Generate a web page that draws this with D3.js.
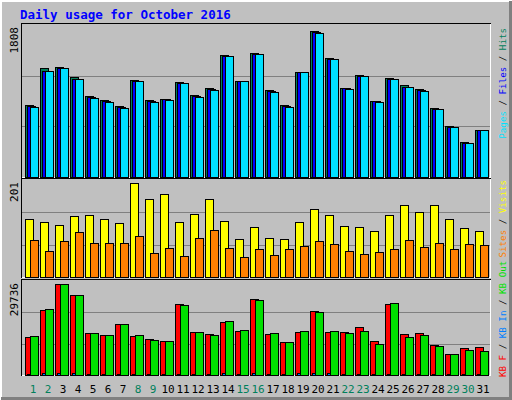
<!DOCTYPE html>
<html>
<head>
<meta charset="utf-8">
<script src="https://cdn.jsdelivr.net/npm/d3@7"></script>
<style>
  body { margin: 0; background: #fff; }
  svg { display: block; }
  text { font-family: 'DejaVu Sans Mono', monospace; }
</style>
</head>
<body>
<svg></svg>
<script>
let days = d3.range(1, 32)
let weekend = [1, 2, 8, 9, 15, 16, 22, 23, 29, 30]

let hits = [870, 1325, 1337, 1217, 978, 930, 858, 1181, 930, 942, 1158, 990, 1074, 1481, 1170, 1505,
            1050, 870, 1277, 1768, 1445, 1086, 1241, 918, 1205, 1121, 1062, 834, 619, 427, 571]
let files = [858, 1290, 1325, 1193, 966, 918, 846, 1170, 918, 942, 1146, 978, 1062, 1469, 1170, 1493,
             1038, 858, 1277, 1756, 1433, 1074, 1229, 918, 1193, 1098, 1050, 822, 607, 415, 571]
let pages = [850, 1285, 1320, 1190, 960, 912, 840, 1165, 912, 940, 1140, 972, 1058, 1465, 1168, 1490,
             1034, 855, 1275, 1750, 1430, 1070, 1225, 915, 1190, 1095, 1046, 820, 605, 412, 569]

let visits = [125, 117, 112, 130, 132, 123, 115, 201, 167, 178, 117, 134, 167, 119, 82, 106,
              84, 82, 117, 145, 132, 108, 106, 99, 132, 154, 138, 154, 125, 104, 99]
let sites = [80, 56, 78, 97, 73, 73, 73, 88, 51, 62, 45, 84, 101, 62, 43, 60,
             47, 60, 67, 78, 71, 56, 49, 54, 60, 80, 65, 73, 60, 71, 69]

let kbF = [12420, 21240, 29736, 26140, 13720, 13070, 16670, 12740, 11760, 11110, 23200, 14050, 13400, 17320, 14380, 24830,
           13400, 10780, 14050, 20910, 14050, 14050, 15680, 11110, 23200, 13400, 13720, 9800, 6860, 8820, 9150]
let kbIn = [300, 600, 600, 600, 300, 300, 300, 300, 300, 300, 300, 300, 300, 600, 300, 600,
            300, 300, 600, 600, 600, 300, 300, 300, 300, 300, 300, 300, 300, 300, 300]
let kbOut = [12740, 21570, 29736, 26140, 13720, 13070, 16670, 13070, 11440, 11110, 22870, 14050, 13070, 17650, 14700, 24510,
             13720, 10780, 14380, 20590, 14380, 13720, 14380, 10130, 23530, 12420, 13070, 9480, 6860, 8170, 7840]

let width = 512
let height = 400
let svg = d3.select('svg').attr('width', width).attr('height', height)
  .attr('shape-rendering', 'crispEdges')

// frame
svg.append('rect').attr('x', 0).attr('y', 0).attr('width', width).attr('height', height).attr('fill', '#c0c0c0')
svg.append('path').attr('d', 'M0.5,399.5 V0.5 H511.5').attr('stroke', '#fff').attr('stroke-width', 2).attr('fill', 'none')
svg.append('path').attr('d', 'M1,398.5 H510.5 V1').attr('stroke', '#808080').attr('stroke-width', 3).attr('fill', 'none')

svg.append('text').attr('x', 20).attr('y', 19).attr('fill', '#0000ff')
  .attr('font-size', 12.5).attr('font-weight', 'bold').text('Daily usage for October 2016')

let x = d3.scaleBand().domain(days).range([25, 490]).paddingInner(0)

let panels = [
  { top: 25, bottom: 177, max: 1808, series: [[hits, '#00805c', 0], [files, '#0000ff', 2], [pages, '#00e0ff', 4.5]] },
  { top: 180, bottom: 277, max: 201, series: [[visits, '#ffff00', 0], [sites, '#ff8000', 4.5]] },
  { top: 281, bottom: 375, max: 29736, series: [[kbF, '#ff0000', 0], [kbIn, '#0080ff', 2], [kbOut, '#00e000', 4.5]] }
]

panels.forEach((p) => {
  let h = p.bottom - p.top
  // inset border
  svg.append('path').attr('d', `M21.5,${p.bottom + 0.5} V${p.top - 1.5} H490.5`).attr('stroke', '#000').attr('fill', 'none')
  svg.append('path').attr('d', `M21.5,${p.bottom + 0.5} H490.5 V${p.top - 1.5}`).attr('stroke', '#fff').attr('fill', 'none')
  ;[1, 2].forEach((k) => {
    let gy = Math.round(p.bottom - h * k / 3) + 0.5
    svg.append('line').attr('x1', 22).attr('x2', 490).attr('y1', gy).attr('y2', gy)
      .attr('stroke', '#808080').attr('stroke-width', 1)
  })
  let y = d3.scaleLinear().domain([0, p.max]).range([p.bottom, p.top + 3])
  p.series.forEach(([vals, col, off]) => {
    svg.append('g').selectAll('rect').data(vals).enter().append('rect')
      .attr('x', (d, i) => Math.round(x(days[i]) + off) + 0.5)
      .attr('y', (d) => Math.round(y(d)) + 0.5)
      .attr('width', 7.5)
      .attr('height', (d) => Math.max(0, p.bottom - Math.round(y(d))))
      .attr('fill', col).attr('stroke', '#000').attr('stroke-width', 1)
  })
  svg.append('text').attr('transform', `translate(18,${p.top + 2}) rotate(-90)`)
    .attr('text-anchor', 'end').attr('font-size', 11).attr('fill', '#000').text(p.max)
})

// day labels
svg.append('g').selectAll('text').data(days).enter().append('text')
  .attr('x', (d) => x(d) + 8).attr('y', 393).attr('text-anchor', 'middle').attr('font-size', 11)
  .attr('fill', (d) => weekend.includes(d) ? '#00805c' : '#000').text((d) => d)

// right labels
let rightLabel = (yPos, anchor, parts) => {
  let t = svg.append('text').attr('transform', `translate(506,${yPos}) rotate(-90)`)
    .attr('font-size', 9.2).attr('text-anchor', anchor)
  parts.forEach(([s, c]) => t.append('tspan').attr('fill', c).text(s))
}
rightLabel(28, 'end', [['Pages', '#00e0ff'], [' / ', '#000'], ['Files', '#0000ff'], [' / ', '#000'], ['Hits', '#00805c']])
rightLabel(180, 'end', [['Sites', '#ff8000'], [' / ', '#000'], ['Visits', '#ffff00']])
rightLabel(377, 'start', [['KB F', '#ff0000'], [' / ', '#000'], ['KB In', '#0080ff'], [' / ', '#000'], ['KB Out', '#00e000']])
</script>
</body>
</html>
